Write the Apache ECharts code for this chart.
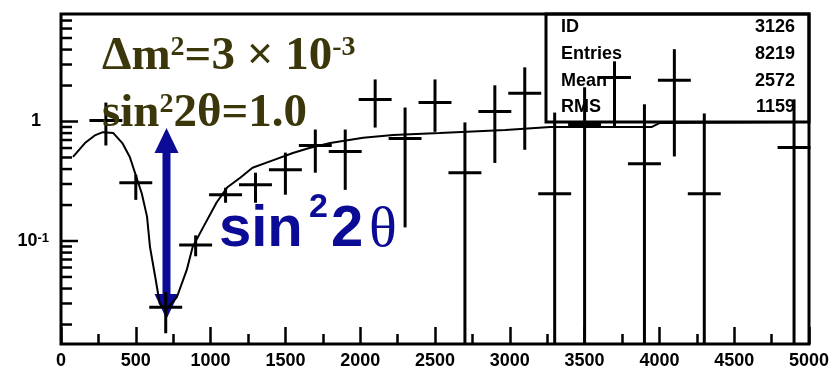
<!DOCTYPE html>
<html>
<head>
<meta charset="utf-8">
<script src="https://cdn.jsdelivr.net/npm/echarts@6/dist/echarts.min.js"></script>
<style>
  html, body { margin: 0; padding: 0; background: #fff; }
  #chart { width: 836px; height: 373px; }
</style>
</head>
<body>
<div id="chart"></div>
<script>
// Measured ratio per energy bin (bin centres in MeV), with upper / lower errors
const binCenters = [300, 500, 700, 900, 1100, 1300, 1500, 1700, 1900, 2100, 2300,
                    2500, 2700, 2900, 3100, 3300, 3500, 3700, 3900, 4100, 4300, 4900];
const ratio      = [1.02, 0.307, 0.0279, 0.0925, 0.244, 0.296, 0.395, 0.629, 0.560, 1.53, 0.720,
                    1.44, 0.373, 1.21, 1.72, 0.248, 0.944, 2.34, 0.444, 2.21, 0.248, 0.605];
const errUp      = [0.42, 0.052, 0.0094, 0.019, 0.035, 0.077, 0.154, 0.228, 0.297, 0.72, 0.59,
                    0.81, 0.61, 0.80, 1.12, 0.94, 0.99, 0.85, 0.95, 1.82, 0.92, 0.93];
const errDown    = [0.39, 0.086, 0.011, 0.018, 0.035, 0.087, 0.151, 0.256, 0.292, 0.64, 0.59,
                    0.62, 0.61, 0.76, 1.14, 0.94, 0.99, 1.43, 0.95, 1.70, 0.92, 0.93];
const binHalfWidth = 100;

// Expected survival probability curve
const curveE = [80, 160, 230, 280, 350, 410, 460, 510, 540, 575, 595, 630, 660, 700, 775,
                840, 880, 950, 1040, 1110, 1200, 1280, 1420, 1550, 1660, 1800, 2020, 2220,
                2530, 2970, 3270, 3950, 4000, 5000];
const curveP = [0.505, 0.66, 0.77, 0.815, 0.80, 0.66, 0.505, 0.325, 0.25, 0.16, 0.089, 0.05,
                0.030, 0.0265, 0.034, 0.057, 0.089, 0.13, 0.21, 0.28, 0.34, 0.41, 0.475,
                0.545, 0.60, 0.66, 0.73, 0.77, 0.80, 0.85, 0.90, 0.90, 0.97, 0.99];

// Statistics box contents
const statNames  = ['ID', 'Entries', 'Mean', 'RMS'];
const statValues = ['3126', '8219', '2572', '1159'];

// Axis ranges
const xMin = 0, xMax = 5000, xStep = 500;
const yMin = 0.01374, yMax = 7.94;

// Log-axis tick marks: 1..9 x 10^k, decades drawn longer
const yTicks = [];
for (let e = -2; e <= 0; e++) {
  for (let m = 1; m <= 9; m++) {
    const v = m * Math.pow(10, e);
    if (v >= yMin && v <= yMax) yTicks.push([0, v, m === 1 ? 1 : 0]);
  }
}

const olive = '#3b370b';
const navy = '#0b0b95';
const pixelFont = 'Liberation Sans';

const chart = echarts.init(document.getElementById('chart'), null, { renderer: 'canvas' });

const statGraphics = [];
const rowY = [27, 54, 81, 107];
statNames.forEach((name, i) => {
  statGraphics.push({
    type: 'text', x: 561, y: rowY[i], z: 100,
    style: { text: name, fill: '#000', fontFamily: pixelFont, fontWeight: 'bold', fontSize: 18,
             align: 'left', verticalAlign: 'middle' }
  });
  statGraphics.push({
    type: 'text', x: 795, y: rowY[i], z: 100,
    style: { text: statValues[i], fill: '#000', fontFamily: pixelFont, fontWeight: 'bold', fontSize: 18,
             align: 'right', verticalAlign: 'middle' }
  });
});

const oliveRich = {
  b: { fontFamily: 'Liberation Serif', fontWeight: 'bold', fontSize: 47, fill: olive },
  s: { fontFamily: 'Liberation Serif', fontWeight: 'bold', fontSize: 28, fill: olive, verticalAlign: 'top' }
};

function blueText(x, y, text, size, family, weight) {
  return {
    type: 'text', x: x, y: y, z: 120,
    style: { text: text, fill: navy, fontFamily: family, fontWeight: weight, fontSize: size,
             align: 'left', verticalAlign: 'middle' }
  };
}

const option = {
  animation: false,
  backgroundColor: '#fff',
  grid: {
    left: 61, right: 27, top: 14, bottom: 29,
    show: true, borderColor: '#000', borderWidth: 3, backgroundColor: 'transparent',
    containLabel: false, outerBoundsMode: 'none'
  },
  xAxis: {
    type: 'value', min: xMin, max: xMax, interval: xStep,
    axisLine: { show: false },
    axisTick: { show: true, inside: true, length: 17, lineStyle: { color: '#000', width: 2.5 } },
    minorTick: { show: true, splitNumber: 2, length: 10, lineStyle: { color: '#000', width: 2.5 } },
    splitLine: { show: false },
    axisLabel: {
      margin: 8, color: '#000', fontFamily: pixelFont, fontWeight: 'bold', fontSize: 18,
      formatter: function (v) { return String(v); }
    }
  },
  yAxis: {
    type: 'log', logBase: 10, min: yMin, max: yMax,
    axisLine: { show: false },
    axisTick: { show: false },
    splitLine: { show: false },
    axisLabel: {
      margin: 12, showMinLabel: false, showMaxLabel: false,
      formatter: function (v) {
        const lg = Math.log10(v), e = Math.round(lg);
        if (Math.abs(lg - e) > 1e-6) return '';
        if (e === 0) return '{one|1}';
        return '{b|10}{s|' + e + '}';
      },
      rich: {
        one: { fontFamily: pixelFont, fontWeight: 'bold', fontSize: 18, color: '#000', padding: [0, 8, 0, 0] },
        b: { fontFamily: pixelFont, fontWeight: 'bold', fontSize: 18, color: '#000' },
        s: { fontFamily: pixelFont, fontWeight: 'bold', fontSize: 13, color: '#000', verticalAlign: 'top' }
      }
    }
  },
  series: [
    {
      type: 'line', name: 'expected',
      data: curveE.map((e, i) => [e, curveP[i]]),
      showSymbol: false, smooth: false,
      lineStyle: { color: '#000', width: 2 },
      z: 2
    },
    {
      type: 'custom', name: 'data', z: 3,
      data: binCenters.map((x, i) => [x, ratio[i], errUp[i], errDown[i]]),
      renderItem: function (params, api) {
        const x = api.value(0), y = api.value(1), up = api.value(2), dn = api.value(3);
        const lo = Math.max(y - dn, yMin);
        const l = api.coord([x - binHalfWidth, y]);
        const r = api.coord([x + binHalfWidth, y]);
        const t = api.coord([x, y + up]);
        const b = api.coord([x, lo]);
        return {
          type: 'group',
          children: [
            { type: 'line', shape: { x1: l[0], y1: l[1], x2: r[0], y2: r[1] },
              style: { stroke: '#000', lineWidth: 3, lineCap: 'square' } },
            { type: 'line', shape: { x1: t[0], y1: t[1], x2: b[0], y2: b[1] },
              style: { stroke: '#000', lineWidth: 3 } }
          ]
        };
      }
    },
    {
      type: 'custom', name: 'yTicks', z: 4, silent: true,
      data: yTicks,
      renderItem: function (params, api) {
        const p = api.coord([api.value(0), api.value(1)]);
        const len = api.value(2) ? 17 : 11;
        return {
          type: 'line',
          shape: { x1: p[0], y1: p[1], x2: p[0] + len, y2: p[1] },
          style: { stroke: '#000', lineWidth: 2.5 }
        };
      }
    }
  ],
  graphic: [
    // statistics box frame
    { type: 'rect', z: 99, shape: { x: 546, y: 14, width: 263, height: 108 },
      style: { fill: 'none', stroke: '#000', lineWidth: 3 } },
    ...statGraphics,
    // oscillation parameters
    { type: 'text', x: 102, y: 57, z: 110,
      style: { text: '{b|\u0394m}{s|2}{b|=3 \u00d7 10}{s|-3}', rich: oliveRich, verticalAlign: 'middle', align: 'left' } },
    { type: 'text', x: 102, y: 114, z: 110,
      style: { text: '{b|sin}{s|2}{b|2\u03b8=1.0}', rich: oliveRich, verticalAlign: 'middle', align: 'left' } },
    // amplitude arrow
    { type: 'group', z: 120, children: [
      { type: 'rect', shape: { x: 162.5, y: 150, width: 8, height: 147 }, style: { fill: navy } },
      { type: 'polygon', shape: { points: [[154.5, 153], [178.5, 153], [166.5, 128]] }, style: { fill: navy } },
      { type: 'polygon', shape: { points: [[154.5, 294], [178.5, 294], [166.5, 319]] }, style: { fill: navy } }
    ] },
    blueText(219, 230, 'sin', 58, 'Liberation Sans', 'bold'),
    blueText(309, 208, '2', 34, 'Liberation Sans', 'bold'),
    blueText(331, 230, '2', 58, 'Liberation Sans', 'bold'),
    blueText(369, 231, '\u03b8', 58, 'Liberation Serif', 'normal')
  ]
};

chart.setOption(option);
</script>
</body>
</html>
